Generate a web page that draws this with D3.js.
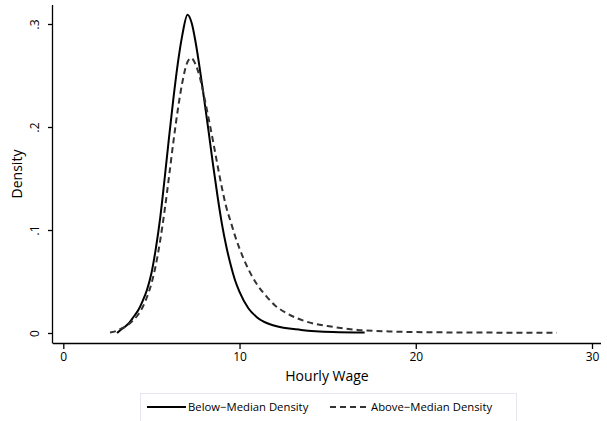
<!DOCTYPE html>
<html>
<head>
<meta charset="utf-8">
<script src="https://cdn.jsdelivr.net/npm/d3@7"></script>
<style>
  body { margin: 0; background: #fff; }
  text { font-family: "Open Sans", "Noto Sans", sans-serif; fill: #000; }
</style>
</head>
<body>
<svg class="chart"></svg>
<script>
// wage grid and density values
var belowWage = [3.05, 3.25, 3.5, 3.75, 4.0, 4.25, 4.5, 4.75, 5.0, 5.25, 5.5, 5.75, 6.0, 6.25, 6.5, 6.75, 7.05,
    7.3, 7.5, 7.75, 8.0, 8.25, 8.5, 8.75, 9.0, 9.25, 9.5, 9.75, 10.0, 10.5, 11.0, 12.0, 13.5, 15.3, 17.1];
var belowDensity = [0.0, 0.003, 0.006, 0.010, 0.016, 0.022, 0.031, 0.042, 0.058, 0.082, 0.112, 0.150, 0.190, 0.228, 0.262, 0.289, 0.309,
    0.300, 0.283, 0.256, 0.226, 0.195, 0.163, 0.133, 0.106, 0.084, 0.066, 0.051, 0.040, 0.024, 0.015, 0.007, 0.003, 0.001, 0.0005];

var aboveWage = [2.65, 3.0, 3.25, 3.5, 3.75, 4.0, 4.25, 4.5, 4.75, 5.0, 5.25, 5.5, 5.75, 6.0, 6.25, 6.5, 6.75, 7.0, 7.25,
    7.5, 7.75, 8.0, 8.25, 8.5, 8.75, 9.0, 9.25, 9.5, 9.75, 10.0, 10.5, 11.0, 11.5, 12.0, 12.7, 13.8, 15.3, 16.7, 18.5, 21, 24, 28];
var aboveDensity = [0.0005, 0.002, 0.004, 0.006, 0.009, 0.013, 0.018, 0.025, 0.035, 0.048, 0.066, 0.090, 0.119, 0.152, 0.186, 0.217, 0.243, 0.261, 0.267,
    0.261, 0.248, 0.229, 0.208, 0.186, 0.163, 0.141, 0.122, 0.108, 0.094, 0.082, 0.062, 0.047, 0.036, 0.027, 0.019, 0.011, 0.006, 0.003, 0.0015, 0.0007, 0.0004, 0.0002];

var xTicks = [0, 10, 20, 30];
var yTicks = [0, 0.1, 0.2, 0.3];
var yTickLabels = ["0", ".1", ".2", ".3"];
var legendLabels = ["Below\u2212Median Density", "Above\u2212Median Density"];

const canvas = {width: 607, height: 421};

const x = d3.scaleLinear().domain([0, 30]).range([63.3, 592]);
const y = d3.scaleLinear().domain([0, 0.3]).range([333, 24]);

const svg = d3.select(".chart")
    .attr("width", canvas.width)
    .attr("height", canvas.height);

// axes
const xAxis = svg.append("g")
    .attr("transform", "translate(0,343)")
    .call(d3.axisBottom(x).tickValues(xTicks).tickSize(6).tickPadding(3).tickSizeOuter(0));
xAxis.select(".domain").attr("d", "M53,0.5H601");
xAxis.selectAll("text").style("font-size", "12px");

const yAxis = svg.append("g")
    .attr("transform", "translate(53,0)")
    .call(d3.axisLeft(y).tickValues(yTicks).tickFormat((d, i) => yTickLabels[i]).tickSize(5).tickSizeOuter(0));
yAxis.select(".domain").attr("d", "M-0.5,5V343.5");
yAxis.selectAll(".tick text")
    .style("font-size", "12px")
    .attr("x", 0)
    .attr("y", -14)
    .attr("dy", "0")
    .attr("text-anchor", "middle")
    .attr("transform", "rotate(-90)");

svg.selectAll(".domain, .tick line").attr("stroke", "#000").attr("stroke-width", 1.3);

svg.append("text")
    .attr("x", 327).attr("y", 381)
    .attr("text-anchor", "middle")
    .style("font-size", "14px")
    .text("Hourly Wage");

svg.append("text")
    .attr("transform", "translate(22,174) rotate(-90)")
    .attr("text-anchor", "middle")
    .style("font-size", "14px")
    .text("Density");

// curves
const line = d3.line()
    .x(d => x(d[0]))
    .y(d => y(d[1]))
    .curve(d3.curveMonotoneX);

svg.append("path")
    .datum(d3.zip(belowWage, belowDensity))
    .attr("fill", "none")
    .attr("stroke", "#000")
    .attr("stroke-width", 2)
    .attr("d", line);

svg.append("path")
    .datum(d3.zip(aboveWage, aboveDensity))
    .attr("fill", "none")
    .attr("stroke", "#333")
    .attr("stroke-width", 2)
    .attr("stroke-dasharray", "6,4")
    .attr("d", line);

// legend
const legend = svg.append("g");
legend.append("rect")
    .attr("x", 140.5).attr("y", 393.5)
    .attr("width", 376).attr("height", 40)
    .attr("fill", "#fff")
    .attr("stroke", "#e4e8ec");

const items = [
    {x0: 147, label: legendLabels[0], dash: null, color: "#000"},
    {x0: 330, label: legendLabels[1], dash: "6,4", color: "#333"}
];
items.forEach(function (it) {
    legend.append("line")
        .attr("x1", it.x0).attr("x2", it.x0 + 39)
        .attr("y1", 407).attr("y2", 407)
        .attr("stroke", it.color)
        .attr("stroke-width", 2)
        .attr("stroke-dasharray", it.dash);
    legend.append("text")
        .attr("x", it.x0 + 41).attr("y", 411)
        .style("font-size", "11.3px")
        .text(it.label);
});
</script>
</body>
</html>
